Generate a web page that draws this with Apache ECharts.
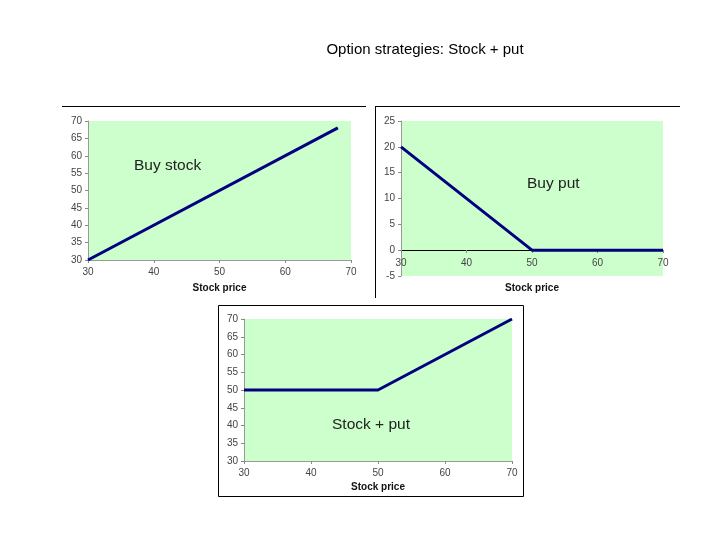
<!DOCTYPE html>
<html>
<head>
<meta charset="utf-8">
<script src="https://cdn.jsdelivr.net/npm/echarts@6/dist/echarts.min.js"></script>
<style>
  html, body { margin: 0; padding: 0; background: #fff; }
  #main { width: 720px; height: 540px; }
</style>
</head>
<body>
<div id="main"></div>
<script>
// payoff lines
var stockX = [30, 68]
var stockY = [30, 68]
var putX = [30, 50, 70]
var putY = [20, 0, 0]
var comboX = [30, 50, 70]
var comboY = [50, 50, 70]

function pairs (xs, ys) {
  return xs.map(function (x, i) { return [x, ys[i]] })
}

var chart = echarts.init(document.getElementById('main'))
var labelStyle = { color: '#444', fontSize: 10, fontFamily: 'Liberation Sans' }
var nameStyle = { color: '#111', fontSize: 10, fontWeight: 'bold', fontFamily: 'Liberation Sans' }
var noteStyle = { fontSize: 15.5, fill: '#222', fontFamily: 'Liberation Sans' }

function xAx (idx, gap, offset, margin) {
  return {
    type: 'value', gridIndex: idx, min: 30, max: 70, interval: 10, offset: offset || 0,
    name: 'Stock price', nameLocation: 'middle', nameGap: gap, nameTextStyle: nameStyle,
    axisLine: { onZero: false, lineStyle: { color: idx === 1 ? '#000' : '#999', width: 1 } },
    axisTick: { show: true, length: 3, lineStyle: { color: '#888' } },
    splitLine: { show: false },
    axisLabel: Object.assign({ margin: margin || 7 }, labelStyle)
  }
}
function yAx (idx, min, max) {
  return {
    type: 'value', gridIndex: idx, min: min, max: max, interval: 5,
    axisLine: { show: true, lineStyle: { color: '#999', width: 1 } },
    axisTick: { show: true, length: 3, lineStyle: { color: '#888' } },
    splitLine: { show: false },
    axisLabel: Object.assign({ margin: 6 }, labelStyle)
  }
}
function lineSeries (idx, data) {
  return {
    type: 'line', xAxisIndex: idx, yAxisIndex: idx, data: data,
    symbol: 'none', lineStyle: { color: '#000080', width: 3 }, silent: true
  }
}

var option = {
  animation: false,
  title: {
    text: 'Option strategies: Stock + put', left: 420, top: 37, textAlign: 'center',
    textStyle: { fontSize: 15, fontWeight: 'normal', color: '#000', fontFamily: 'Liberation Sans' }
  },
  grid: [
    { left: 88, top: 121, width: 263, height: 139, show: true, backgroundColor: '#ccffcc', borderWidth: 0 },
    { left: 401, top: 121, width: 262, height: 155, show: true, backgroundColor: '#ccffcc', borderWidth: 0 },
    { left: 244, top: 319, width: 268, height: 142, show: true, backgroundColor: '#ccffcc', borderWidth: 0 }
  ],
  xAxis: [xAx(0, 23), xAx(1, 33, -26, 8), xAx(2, 21)],
  yAxis: [yAx(0, 30, 70), yAx(1, -5, 25), yAx(2, 30, 70)],
  series: [
    lineSeries(0, pairs(stockX, stockY)),
    lineSeries(1, pairs(putX, putY)),
    lineSeries(2, pairs(comboX, comboY))
  ],
  graphic: [
    { type: 'line', shape: { x1: 62, y1: 106.5, x2: 366, y2: 106.5 }, style: { stroke: '#000', lineWidth: 1 } },
    { type: 'line', shape: { x1: 375, y1: 106.5, x2: 680, y2: 106.5 }, style: { stroke: '#000', lineWidth: 1 } },
    { type: 'line', shape: { x1: 375.5, y1: 106, x2: 375.5, y2: 298 }, style: { stroke: '#000', lineWidth: 1 } },
    { type: 'rect', shape: { x: 218.5, y: 305.5, width: 305, height: 191 }, style: { fill: 'none', stroke: '#000', lineWidth: 1 } },
    { type: 'text', left: 134, top: 158, style: Object.assign({ text: 'Buy stock' }, noteStyle) },
    { type: 'text', left: 527, top: 176, style: Object.assign({ text: 'Buy put' }, noteStyle) },
    { type: 'text', left: 332, top: 417, style: Object.assign({ text: 'Stock + put' }, noteStyle) }
  ]
}
chart.setOption(option)
</script>
</body>
</html>
